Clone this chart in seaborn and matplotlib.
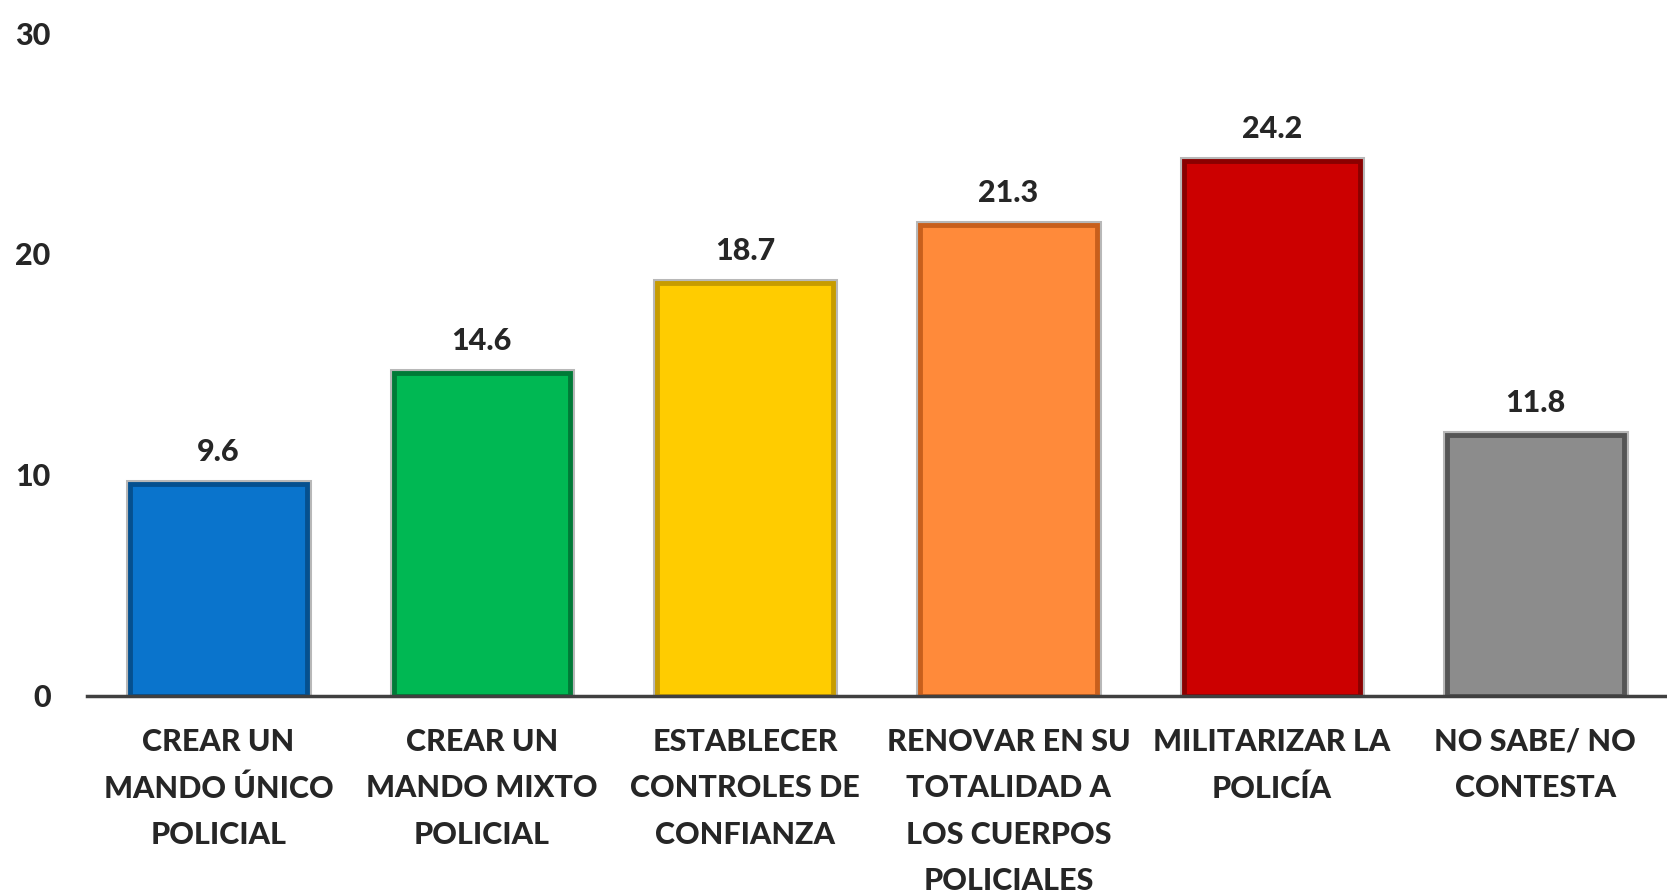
import matplotlib
matplotlib.use("Agg")
import matplotlib.pyplot as plt
import matplotlib.patheffects as pe
import seaborn as sns
import pandas as pd

# Datos
categorias = [
    "CREAR UN\nMANDO ÚNICO\nPOLICIAL",
    "CREAR UN\nMANDO MIXTO\nPOLICIAL",
    "ESTABLECER\nCONTROLES DE\nCONFIANZA",
    "RENOVAR EN SU\nTOTALIDAD A\nLOS CUERPOS\nPOLICIALES",
    "MILITARIZAR LA\nPOLICÍA",
    "NO SABE/ NO\nCONTESTA",
]
valores = [9.6, 14.6, 18.7, 21.3, 24.2, 11.8]
colores = ["#0a74cc", "#00b853", "#ffcc00", "#ff8a3a", "#cc0000", "#8c8c8c"]
bordes = ["#05508f", "#007a37", "#c79c00", "#c85f1c", "#8a0000", "#555555"]

df = pd.DataFrame({"cat": categorias, "val": valores})

sns.set_style("white")
plt.rcParams["font.family"] = ["Lato", "DejaVu Sans"]

fig = plt.figure(figsize=(16.67, 8.92), dpi=100)
ax = fig.add_axes([0.052, 0.22, 0.948, 0.743])

sns.barplot(data=df, x="cat", y="val", hue="cat", palette=colores,
            width=0.67, legend=False, ax=ax, saturation=1)

for bar, borde in zip(ax.patches, bordes):
    bar.set_edgecolor(borde)
    bar.set_linewidth(3.5)
    bar.set_path_effects([pe.Stroke(linewidth=6.5, foreground="#b8b8b8"), pe.Normal()])

peso = 900
for i, v in enumerate(valores):
    ax.annotate(f"{v:.1f}", (i, v), xytext=(0, 13), textcoords="offset points",
                ha="center", va="bottom", fontsize=22, fontweight=peso)

ax.set_ylim(0, 30)
ax.set_xlim(-0.5, 5.5)
ax.set_yticks([0, 10, 20, 30])
ax.set_yticklabels(["0", "10", "20", "30"], fontsize=22, fontweight=peso)
ax.tick_params(axis="y", length=0, pad=26)
ax.set_xticks(range(len(categorias)))
ax.set_xticklabels(categorias, fontsize=22, fontweight=peso, linespacing=1.8)
ax.tick_params(axis="x", which="major", length=0, pad=23)
ax.set_xticks([i - 0.5 for i in range(len(categorias) + 1)], minor=True)
ax.tick_params(axis="x", which="minor", length=9, width=2.2, color="#404040", direction="out")
ax.set_xlabel("")
ax.set_ylabel("")

for s in ["top", "right", "left"]:
    ax.spines[s].set_visible(False)
ax.spines["bottom"].set_color("#404040")
ax.spines["bottom"].set_linewidth(2.5)

plt.savefig("out.png", dpi=100)
